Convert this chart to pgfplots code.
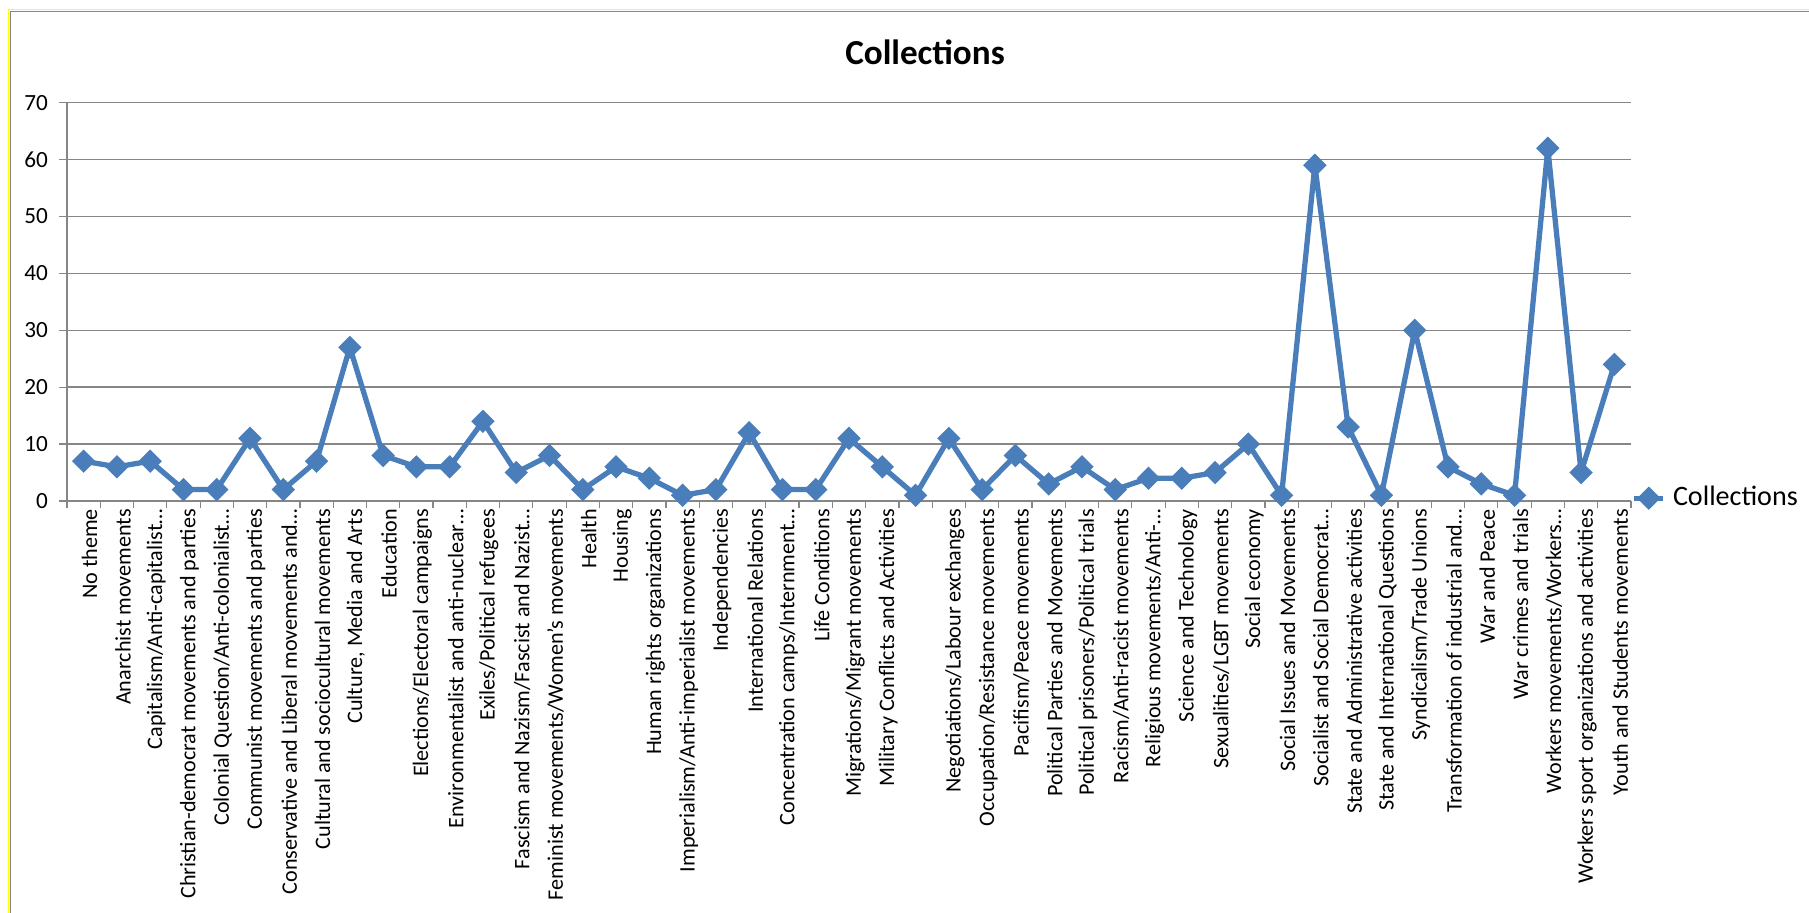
\documentclass[border=0pt]{standalone}
\usepackage{fontspec}
\setmainfont{Carlito}
\usepackage{pgfplots}
\pgfplotsset{compat=1.18}

\definecolor{xlblue}{RGB}{74,126,187}
\definecolor{gridgray}{RGB}{134,134,134}
\definecolor{frameyellow}{RGB}{255,255,0}

\begin{document}
\begin{tikzpicture}
\useasboundingbox (0,0) rectangle (180.9mm,91.3mm);
% chart frame (cut off on the right and at the bottom)
\draw[frameyellow, line width=0.15mm] (0.85mm,0) -- (0.85mm,90.35mm) -- (180.9mm,90.35mm);
\draw[gridgray, line width=0.18mm] (1.05mm,0) -- (1.05mm,90.15mm) -- (180.9mm,90.15mm);

\node[font=\fontsize{10}{12}\selectfont\bfseries] at (92.5mm,86.1mm) {Collections};

\begin{axis}[%
at={(6.7mm,41.2mm)},
anchor=south west,
scale only axis,
width=156.4mm,
height=39.83mm,
xmin=0.5,
xmax=47.5,
ymin=0,
ymax=70,
ytick={0,10,...,70},
xtick={1,...,47},
minor xtick={0.5,1.5,...,47.5},
axis x line*=bottom,
axis y line*=left,
axis line style={gridgray, line width=0.15mm},
tick align=outside,
major tick length=0.75mm,
minor tick length=0.75mm,
major x tick style={draw=none},
minor x tick style={gridgray, line width=0.12mm},
major y tick style={gridgray, line width=0.12mm},
ymajorgrids,
grid style={gridgray, line width=0.15mm},
/pgf/number format/assume math mode=true,
tick label style={font=\fontsize{6.3}{7}\selectfont},
yticklabel style={anchor=east, inner sep=0pt, xshift=-1.1mm, font=\fontsize{6.6}{8}\selectfont},
xticklabel style={rotate=90, anchor=east, inner sep=0pt, yshift=-0.6mm},
xticklabels={
{No theme},
{Anarchist movements},
{Capitalism/Anti-capitalist…},
{Christian-democrat movements and parties},
{Colonial Question/Anti-colonialist…},
{Communist movements and parties},
{Conservative and Liberal movements and…},
{Cultural and sociocultural movements},
{Culture, Media and Arts},
{Education},
{Elections/Electoral campaigns},
{Environmentalist and anti-nuclear…},
{Exiles/Political refugees},
{Fascism and Nazism/Fascist and Nazist…},
{Feminist movements/Women's movements},
{Health},
{Housing},
{Human rights organizations},
{Imperialism/Anti-imperialist movements},
{Independencies},
{International Relations},
{Concentration camps/Internment…},
{Life Conditions},
{Migrations/Migrant movements},
{Military Conflicts and Activities},
{},
{Negotiations/Labour exchanges},
{Occupation/Resistance movements},
{Pacifism/Peace movements},
{Political Parties and Movements},
{Political prisoners/Political trials},
{Racism/Anti-racist movements},
{Religious movements/Anti-…},
{Science and Technology},
{Sexualities/LGBT movements},
{Social economy},
{Social Issues and Movements},
{Socialist and Social Democrat…},
{State and Administrative activities},
{State and International Questions},
{Syndicalism/Trade Unions},
{Transformation of industrial and…},
{War and Peace},
{War crimes and trials},
{Workers movements/Workers…},
{Workers sport organizations and activities},
{Youth and Students movements}},
legend style={at={(rel axis cs:1,0.007)}, anchor=west, draw=none, fill=none,
  inner xsep=0pt, font=\fontsize{8}{9}\selectfont},
legend image code/.code={\draw[mark repeat=2,mark phase=2,#1] plot coordinates {(0mm,0mm) (1.45mm,0mm) (2.9mm,0mm)};},
]
\addplot [
color=xlblue,
line width=1.5pt,
line join=round,
mark=square*,
mark size=1.6pt,
mark options={solid, rotate=45, fill=xlblue, line join=miter}
]
table[row sep=crcr]{
1 7\\
2 6\\
3 7\\
4 2\\
5 2\\
6 11\\
7 2\\
8 7\\
9 27\\
10 8\\
11 6\\
12 6\\
13 14\\
14 5\\
15 8\\
16 2\\
17 6\\
18 4\\
19 1\\
20 2\\
21 12\\
22 2\\
23 2\\
24 11\\
25 6\\
26 1\\
27 11\\
28 2\\
29 8\\
30 3\\
31 6\\
32 2\\
33 4\\
34 4\\
35 5\\
36 10\\
37 1\\
38 59\\
39 13\\
40 1\\
41 30\\
42 6\\
43 3\\
44 1\\
45 62\\
46 5\\
47 24\\
};
\addlegendentry{Collections}
\end{axis}
\end{tikzpicture}
\end{document}
